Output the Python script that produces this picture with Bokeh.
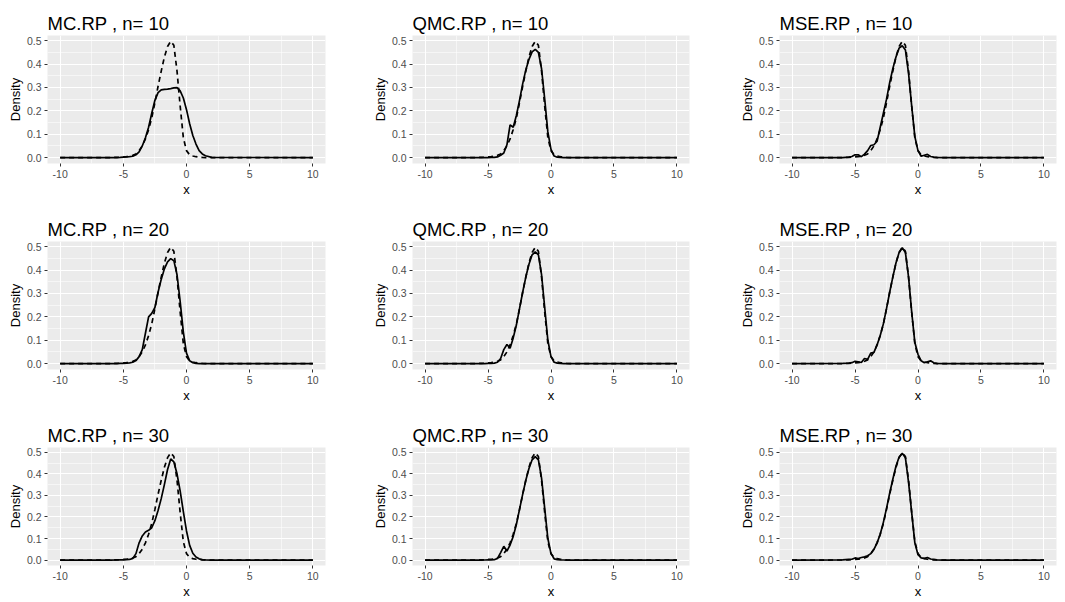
from bokeh.plotting import figure
from bokeh.layouts import column, row
from bokeh.models import Range1d, FixedTicker, PrintfTickFormatter
from bokeh.embed import file_html
from bokeh.resources import INLINE

methods = ["MC.RP", "QMC.RP", "MSE.RP"]
sizes = [10, 20, 30]

x_grid = [-10, -6, -5.5, -5.25, -5, -4.75, -4.5, -4.25, -4, -3.75, -3.5, -3.25, -3,
          -2.75, -2.5, -2.25, -2, -1.75, -1.5, -1.25, -1, -0.75, -0.5, -0.25, 0,
          0.25, 0.5, 0.75, 1, 1.25, 1.5, 2, 10]

# dashed reference density (same in every panel)
target = [0, 0.0005, 0.001, 0.002, 0.003, 0.004, 0.006, 0.01, 0.016, 0.03, 0.05, 0.08, 0.12,
          0.17, 0.235, 0.305, 0.37, 0.43, 0.475, 0.497, 0.48, 0.37, 0.22, 0.085, 0.03,
          0.012, 0.007, 0.004, 0.002, 0.001, 0.0005, 0, 0]

mc_10 = [0, 0, 0.0005, 0.001, 0.002, 0.003, 0.004, 0.006, 0.012, 0.025, 0.05, 0.085, 0.13,
         0.19, 0.245, 0.278, 0.29, 0.292, 0.293, 0.295, 0.298, 0.299, 0.285, 0.255, 0.205,
         0.145, 0.095, 0.058, 0.03, 0.016, 0.008, 0.001, 0]
qmc_10 = [0, 0, 0, 0, 0.0005, 0.001, 0.001, 0.003, 0.01, 0.02, 0.055, 0.14, 0.13,
          0.18, 0.245, 0.315, 0.375, 0.42, 0.452, 0.463, 0.45, 0.38, 0.25, 0.11, 0.035,
          0.007, 0.002, 0.001, 0.0005, 0, 0, 0, 0]
mse_10 = [0, 0.0005, 0.002, 0.005, 0.012, 0.012, 0.004, 0.015, 0.03, 0.052, 0.055, 0.07, 0.13,
          0.19, 0.25, 0.32, 0.38, 0.43, 0.468, 0.478, 0.46, 0.36, 0.22, 0.09, 0.03,
          0.006, 0.01, 0.014, 0.005, 0.002, 0.001, 0, 0]

mc_20 = [0, 0, 0.0005, 0.001, 0.001, 0.002, 0.003, 0.006, 0.013, 0.03, 0.06, 0.13, 0.2,
         0.215, 0.24, 0.305, 0.36, 0.405, 0.435, 0.449, 0.44, 0.38, 0.265, 0.135, 0.045,
         0.012, 0.004, 0.001, 0.0005, 0, 0, 0, 0]
qmc_20 = [0, 0, 0, 0.0005, 0.001, 0.001, 0.002, 0.006, 0.022, 0.06, 0.082, 0.066, 0.11,
          0.165, 0.235, 0.305, 0.37, 0.425, 0.465, 0.478, 0.465, 0.38, 0.24, 0.1, 0.03,
          0.006, 0.002, 0.001, 0.0005, 0, 0, 0, 0]
mse_20 = [0, 0.001, 0.002, 0.004, 0.01, 0.008, 0.005, 0.022, 0.018, 0.045, 0.048, 0.08, 0.12,
          0.17, 0.235, 0.305, 0.37, 0.43, 0.475, 0.495, 0.475, 0.37, 0.22, 0.09, 0.04,
          0.012, 0.004, 0.008, 0.012, 0.004, 0.001, 0, 0]

mc_30 = [0, 0, 0.0005, 0.001, 0.001, 0.002, 0.003, 0.008, 0.03, 0.08, 0.112, 0.13, 0.138,
         0.15, 0.183, 0.23, 0.285, 0.35, 0.42, 0.469, 0.455, 0.4, 0.32, 0.225, 0.135,
         0.068, 0.032, 0.014, 0.006, 0.002, 0.001, 0, 0]
qmc_30 = [0, 0, 0, 0.0005, 0.001, 0.001, 0.002, 0.008, 0.035, 0.064, 0.042, 0.07, 0.11,
          0.165, 0.235, 0.305, 0.37, 0.425, 0.465, 0.48, 0.465, 0.38, 0.24, 0.1, 0.03,
          0.006, 0.002, 0.001, 0.0005, 0, 0, 0, 0]
mse_30 = [0, 0.001, 0.003, 0.004, 0.01, 0.007, 0.012, 0.015, 0.02, 0.03, 0.05, 0.08, 0.12,
          0.175, 0.24, 0.31, 0.375, 0.435, 0.478, 0.495, 0.475, 0.36, 0.22, 0.08, 0.025,
          0.01, 0.008, 0.012, 0.005, 0.003, 0.001, 0, 0]

curves = {
    ("MC.RP", 10): mc_10, ("QMC.RP", 10): qmc_10, ("MSE.RP", 10): mse_10,
    ("MC.RP", 20): mc_20, ("QMC.RP", 20): qmc_20, ("MSE.RP", 20): mse_20,
    ("MC.RP", 30): mc_30, ("QMC.RP", 30): qmc_30, ("MSE.RP", 30): mse_30,
}

x_ticks = [-10, -5, 0, 5, 10]
x_minor = [-7.5, -2.5, 2.5, 7.5]
y_ticks = [0.0, 0.1, 0.2, 0.3, 0.4, 0.5]
y_minor = [0.05, 0.15, 0.25, 0.35, 0.45]

FONT = "Liberation Sans"
col_widths = [365, 367, 332]
col_right = [40, 43, 8]
row_heights = [206, 206, 189]
row_bottom = [43, 43, 26]

rows = []
for i, n in enumerate(sizes):
    figs = []
    for j, m in enumerate(methods):
        p = figure(width=col_widths[j], height=row_heights[i],
                   x_range=Range1d(-11, 11), y_range=Range1d(-0.025, 0.522),
                   output_backend="svg", toolbar_location=None, tools="",
                   min_border_left=47, min_border_right=col_right[j],
                   min_border_top=35, min_border_bottom=row_bottom[i],
                   background_fill_color="#EBEBEB", border_fill_color="white",
                   outline_line_color=None, title=f"{m} , n= {n}")
        p.title.text_font = FONT
        p.title.text_font_size = "18.5px"
        p.title.text_font_style = "normal"
        p.title.text_color = "black"
        p.title.standoff = 4

        p.xaxis.ticker = FixedTicker(ticks=x_ticks, minor_ticks=x_minor)
        p.yaxis.ticker = FixedTicker(ticks=y_ticks, minor_ticks=y_minor)
        p.xaxis.formatter = PrintfTickFormatter(format="%d")
        p.yaxis.formatter = PrintfTickFormatter(format="%.1f")
        p.xaxis.axis_label = "x"
        p.yaxis.axis_label = "Density"
        for ax in (p.xaxis, p.yaxis):
            ax.axis_line_color = None
            ax.major_tick_line_color = "#333333"
            ax.major_tick_out = 3
            ax.major_tick_in = 0
            ax.minor_tick_line_color = None
            ax.major_label_text_color = "#4D4D4D"
            ax.major_label_text_font = FONT
            ax.major_label_text_font_size = "10.5px"
            ax.major_label_standoff = 2
            ax.axis_label_text_font = FONT
            ax.axis_label_text_font_size = "13px"
            ax.axis_label_text_font_style = "normal"
            ax.axis_label_text_color = "black"
            ax.axis_label_standoff = 1
        for g in (p.xgrid, p.ygrid):
            g.grid_line_color = "white"
            g.grid_line_width = 1.1
            g.minor_grid_line_color = "white"
            g.minor_grid_line_width = 0.55

        p.line(x_grid, curves[(m, n)], line_color="black", line_width=1.7)
        p.line(x_grid, target, line_color="black", line_width=1.7, line_dash="5 4")
        figs.append(p)
    rows.append(row(*figs))

layout = column(*rows)
open("out.html", "w").write(file_html(layout, INLINE))
